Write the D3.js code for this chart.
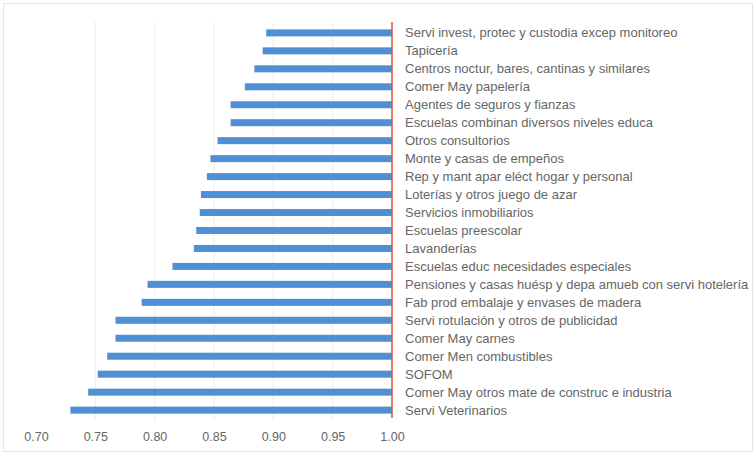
<!DOCTYPE html>
<html>
<head>
<meta charset="utf-8">
<script src="https://cdn.jsdelivr.net/npm/d3@7"></script>
<style>
  html, body { margin: 0; padding: 0; background: #fff; }
  svg { display: block; }
</style>
</head>
<body>
<svg id="chart" width="756" height="455"></svg>
<script>
const categories = [
  "Servi invest, protec y custodia excep monitoreo",
  "Tapicería",
  "Centros noctur, bares, cantinas y similares",
  "Comer May papelería",
  "Agentes de seguros y fianzas",
  "Escuelas combinan diversos niveles educa",
  "Otros consultorios",
  "Monte y casas de empeños",
  "Rep y mant apar eléct hogar y personal",
  "Loterías y otros juego de azar",
  "Servicios inmobiliarios",
  "Escuelas preescolar",
  "Lavanderías",
  "Escuelas educ necesidades especiales",
  "Pensiones y casas huésp y depa amueb con servi hotelería",
  "Fab prod embalaje y envases de madera",
  "Servi rotulación y otros de publicidad",
  "Comer May carnes",
  "Comer Men combustibles",
  "SOFOM",
  "Comer May otros mate de construc e industria",
  "Servi Veterinarios"
];
const values = [0.894, 0.891, 0.884, 0.876, 0.864, 0.864, 0.853, 0.847, 0.844, 0.839, 0.838,
  0.835, 0.833, 0.815, 0.794, 0.789, 0.767, 0.767, 0.760, 0.752, 0.744, 0.729];
const tickValues = [0.70, 0.75, 0.80, 0.85, 0.90, 0.95, 1.00];
const baseline = 1.00;

const svg = d3.select("#chart");
const W = 756, H = 455;

// faint outer frame
svg.append("rect").attr("x", 3.5).attr("y", 3.5).attr("width", W - 7).attr("height", H - 7)
  .attr("fill", "none").attr("stroke", "#e6e6e6");

const x = d3.scaleLinear().domain([0.70, 1.00]).range([36, 392]);
const y = d3.scaleBand().domain(categories).range([24, 419]).paddingInner(0.61).paddingOuter(0.3);

// gridlines
svg.append("g").selectAll("line").data(tickValues.filter(t => t > 0.70 && t < baseline)).join("line")
  .attr("x1", d => x(d)).attr("x2", d => x(d))
  .attr("y1", 22).attr("y2", 420)
  .attr("stroke", "#ececec").attr("stroke-width", 1);

// bars from value to baseline
const data = categories.map((c, i) => ({ c, v: values[i] }));
svg.append("g").selectAll("rect").data(data).join("rect")
  .attr("x", d => x(d.v))
  .attr("width", d => x(baseline) - x(d.v))
  .attr("y", d => y(d.c))
  .attr("height", y.bandwidth())
  .attr("fill", "#4f90d4");

// baseline red line
svg.append("line")
  .attr("x1", x(baseline)).attr("x2", x(baseline))
  .attr("y1", 22).attr("y2", 418)
  .attr("stroke", "#e0533f").attr("stroke-width", 1.5);

// category labels
svg.append("g").selectAll("text").data(data).join("text")
  .attr("x", x(baseline) + 13)
  .attr("y", d => y(d.c) + y.bandwidth() / 2)
  .attr("dy", "0.35em")
  .attr("font-family", "Liberation Sans, Arial, sans-serif")
  .attr("font-size", "13px")
  .attr("fill", "#666")
  .text(d => d.c);

// x axis
const axis = d3.axisBottom(x).tickValues(tickValues).tickFormat(d3.format(".2f")).tickSize(0).tickPadding(0);
const gx = svg.append("g").attr("transform", "translate(0,432)").call(axis);
gx.select(".domain").remove();
gx.selectAll("text")
  .attr("font-family", "Liberation Sans, Arial, sans-serif")
  .attr("font-size", "12.5px")
  .attr("fill", "#666");
</script>
</body>
</html>
